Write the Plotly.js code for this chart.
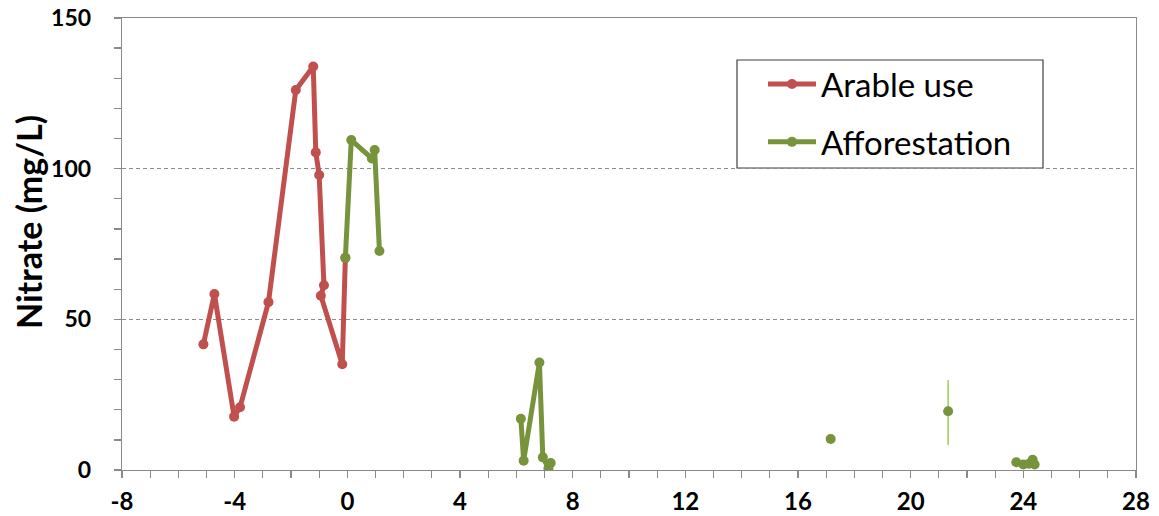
<!DOCTYPE html>
<html>
<head>
<meta charset="utf-8">
<script src="https://cdn.plot.ly/plotly-3.0.1.min.js"></script>
<style>html,body{margin:0;padding:0;background:#fff;}#chart{width:1159px;height:516px;}</style>
</head>
<body>
<div id="chart"></div>
<script>
// Arable use series
const arableX = [-5.11, -4.72, -4.02, -3.81, -2.80, -1.83, -1.21, -1.12, -1.00, -0.83, -0.94, -0.18, -0.07];
const arableY = [41.7, 58.4, 17.7, 20.8, 55.7, 126.1, 133.9, 105.4, 97.9, 61.3, 57.8, 35.1, 70.4];

// Afforestation series (null = gap in line)
const afforX = [-0.07, 0.14, 0.87, 0.97, 1.14, null, 6.16, 6.26, 6.82, 6.94, 7.14, 7.22, null, 17.16, null, 21.33, null, 23.75, 24.0, 24.2, 24.33, 24.4];
const afforY = [70.4, 109.5, 103.4, 106.2, 72.7, null, 17.0, 3.1, 35.7, 4.2, 0.6, 2.3, null, 10.3, null, 19.5, null, 2.6, 1.8, 2.1, 3.4, 1.8];
const afforErrPlus  = [0,0,0,0,0,0,0,0,0,0,0,0,0,0,0,10.4,0,0,0,0,0,0];
const afforErrMinus = [0,0,0,0,0,0,0,0,0,0,0,0,0,0,0,11.2,0,0,0,0,0,0];

const seriesNames = ["Arable use", "Afforestation"];
const xTicks = [-8, -4, 0, 4, 8, 12, 16, 20, 24, 28];
const yTicks = [0, 50, 100, 150];
const yTitle = "Nitrate (mg/L)";

const RED = "#c0504d", GREEN = "#77933c";
const FONT = "Lato, 'Open Sans', sans-serif";

const traces = [
  {
    x: arableX, y: arableY, name: seriesNames[0], type: "scatter", mode: "lines+markers",
    line: {color: RED, width: 5}, marker: {color: RED, size: 10},
    legendgroup: "a"
  },
  {
    x: afforX, y: afforY, name: seriesNames[1], type: "scatter", mode: "lines+markers",
    connectgaps: false,
    line: {color: GREEN, width: 5}, marker: {color: GREEN, size: 10},
    error_y: {type: "data", symmetric: false, array: afforErrPlus, arrayminus: afforErrMinus,
              color: "#9acd5a", thickness: 1.5, width: 0},
    legendgroup: "b"
  }
];

const L = 122, R = 1136, T = 18, B = 470, W = 1159, H = 516;
const px = v => (v - L) / (R - L);
const py = v => (B - v) / (B - T);

const layout = {
  width: W, height: H,
  margin: {l: L, r: W - R, t: T, b: H - B, pad: 0},
  paper_bgcolor: "#ffffff", plot_bgcolor: "#ffffff",
  font: {family: FONT, color: "#000"},
  showlegend: true,
  legend: {
    x: px(763), y: py(56), xanchor: "left", yanchor: "top",
    bgcolor: "rgba(0,0,0,0)", borderwidth: 0,
    font: {family: FONT, size: 33, color: "#000"},
    itemwidth: 48, tracegroupgap: 12, traceorder: "grouped"
  },
  xaxis: {
    range: [-8, 28], tickvals: xTicks, ticktext: xTicks.map(String),
    showgrid: false, zeroline: false,
    showline: true, linecolor: "#8a8a8a", linewidth: 1.3, mirror: true,
    ticks: "outside", ticklen: 7, tickcolor: "#8a8a8a", tickwidth: 1.3,
    minor: {dtick: 1, ticks: "outside", ticklen: 7, tickcolor: "#8a8a8a", tickwidth: 1.3, showgrid: false},
    tickfont: {family: FONT, size: 24, color: "#000", weight: "bold"},
    ticklabelstandoff: 3
  },
  yaxis: {
    range: [0, 150], tickvals: yTicks, ticktext: yTicks.map(String),
    showgrid: true, gridcolor: "#8c8c8c", griddash: "4px,3px", gridwidth: 1,
    zeroline: false,
    showline: true, linecolor: "#8a8a8a", linewidth: 1.3, mirror: true,
    ticks: "outside", ticklen: 7, tickcolor: "#8a8a8a", tickwidth: 1.3,
    minor: {dtick: 10, ticks: "outside", ticklen: 7, tickcolor: "#8a8a8a", tickwidth: 1.3, showgrid: false},
    tickfont: {family: FONT, size: 23, color: "#000", weight: "bold"},
    ticklabelstandoff: 18
  },
  annotations: [
    {text: yTitle, textangle: -90, xref: "paper", yref: "paper", x: px(28), y: py(222),
     xanchor: "center", yanchor: "middle", showarrow: false,
     font: {family: FONT, size: 34, color: "#000", weight: "bold"}}
  ],
  shapes: [
    {type: "rect", xref: "paper", yref: "paper", x0: px(737), x1: px(1043), y0: py(168), y1: py(60),
     line: {color: "#404040", width: 1.2}, fillcolor: "rgba(0,0,0,0)", layer: "below"}
  ]
};

Plotly.newPlot("chart", traces, layout, {staticPlot: true, displayModeBar: false});
</script>
</body>
</html>
